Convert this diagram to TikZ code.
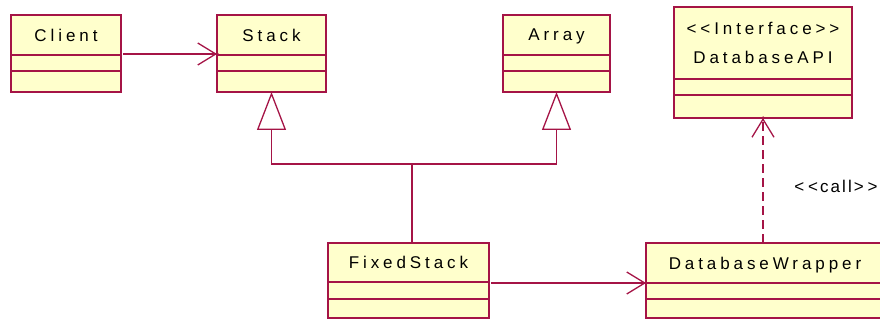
\documentclass[tikz,border=0pt]{standalone}
\usepackage{fontspec}
\setmainfont{Liberation Sans}
\newfontfamily\umlfont{Liberation Sans}[LetterSpace=23]
\newfontfamily\lblfont{Liberation Sans}[LetterSpace=12]
\usetikzlibrary{arrows.meta}
\definecolor{umlline}{RGB}{165,20,70}
\definecolor{umlfill}{RGB}{255,255,204}

% spaced stereotype brackets
\newcommand\lguil{<\kern0.23em<}
\newcommand\rguil{>\kern0.23em>}

% class box: header with name, attribute and operation compartments
% #1 name, #2 left, #3 right, #4 top, #5 header bottom, #6 attribute bottom, #7 bottom, #8 text
\newcommand\umlclass[8]{%
  \node[hdr, minimum width={#3-#2}, minimum height={#5-#4}] (#1) at ({(#2+#3)/2},{(#4+#5)/2}) {#8};
  \node[cmp, minimum width={#3-#2}, minimum height={#6-#5}] (#1-a) at ({(#2+#3)/2},{(#5+#6)/2}) {};
  \node[cmp, minimum width={#3-#2}, minimum height={#7-#6}] (#1-o) at ({(#2+#3)/2},{(#6+#7)/2}) {};
}

\begin{document}
\begin{tikzpicture}[x=1pt,y=-1pt,
  cmp/.style={draw=umlline, fill=umlfill, line width=1.3pt, inner sep=0pt, outer sep=0pt},
  hdr/.style={cmp, align=center, text depth=0pt, font=\umlfont\fontsize{17}{29.5}\selectfont},
  link/.style={draw=umlline, line width=1.3pt},
  nav/.style={link, -{Straight Barb[length=18pt,width=22pt]}},
  gen/.style={link, -{Triangle[open, length=38pt, width=29pt, fill=white]}},
  dep/.style={nav, dash pattern=on 9pt off 5pt},
  tipdot/.style={fill=umlline, circle, inner sep=0pt, minimum size=3.5pt},
  lbl/.style={font=\lblfont\fontsize{17}{20}\selectfont, inner sep=0pt}
]
\useasboundingbox (0,0) rectangle (880,320);

\umlclass{client}{11}{121}{15}{55}{71}{92}{Client}
\umlclass{stack}{217}{326}{15}{55}{71}{92}{Stack}
\umlclass{array}{503}{610}{15}{55}{71}{92}{Array}
\umlclass{api}{674}{852}{7}{79}{95}{118}{\lguil Interface\rguil\\DatabaseAPI}
\umlclass{fs}{328}{489}{243}{282}{299}{318}{FixedStack}
\umlclass{dbw}{646}{884}{243}{283}{299}{318}{DatabaseWrapper}

% association Client -> Stack
\coordinate (c1) at ([xshift=2pt,yshift=1pt]client.south east);
\coordinate (c2) at (c1 -| stack.west);
\draw[nav] (c1) -- (c2);
\node[tipdot] at (c2) {};

% generalisation FixedStack -> Stack, Array
\coordinate (j) at (412,164);
\draw[link] (j) -- (j |- fs.north);
\draw[gen] (j) -| (stack-o.south);
\draw[gen] (j) -| (array-o.south);

% association FixedStack -> DatabaseWrapper
\coordinate (f2) at (dbw.south west);
\coordinate (f1) at ([xshift=2pt]f2 -| fs.east);
\draw[nav] (f1) -- (f2);
\node[tipdot] at (f2) {};

% dependency DatabaseWrapper -> DatabaseAPI
\coordinate (d1) at (api-o.south |- dbw.north);
\draw[dep] (d1) -- (api-o.south);
\node[tipdot] at (api-o.south) {};
\node[lbl] (call) at (836,186) {\lguil call\rguil};

\end{tikzpicture}
\end{document}
